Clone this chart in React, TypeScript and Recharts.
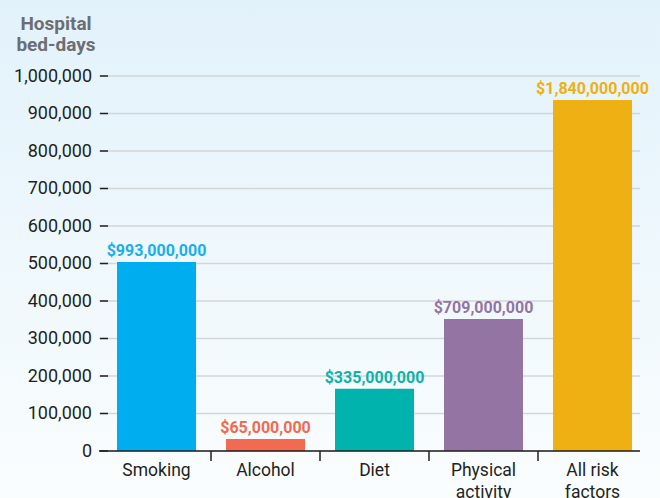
import { BarChart, Bar, XAxis, YAxis, CartesianGrid, Cell, LabelList } from 'recharts';

const categories = ['Smoking', 'Alcohol', 'Diet', 'Physical activity', 'All risk factors'];
const bedDays = [504000, 32000, 166000, 352000, 936000];
const costLabels = ['$993,000,000', '$65,000,000', '$335,000,000', '$709,000,000', '$1,840,000,000'];
const barColors = ['#00aeef', '#f26a50', '#00b4ad', '#9474a2', '#eeb013'];
const labelColors = ['#1aaeea', '#f2694f', '#0db3a8', '#9474a2', '#eeb013'];
const yTicks = [0, 100000, 200000, 300000, 400000, 500000, 600000, 700000, 800000, 900000, 1000000];

const data = categories.map((name, i) => ({ name, beds: bedDays[i], cost: costLabels[i] }));

const FONT = 'Roboto, "Noto Sans", sans-serif';
const TEXT = '#231f20';
const PAD_L = 3;
const PAD_R = -7;
const PLOT_W = 541;
const BAND = (PLOT_W - PAD_L - PAD_R) / categories.length;

const YTick = ({ x, y, payload }: any) => (
    <g>
        <text x={x - 7} y={y + 5.5} textAnchor="end" fontSize={18} fontFamily={FONT} fill={TEXT}>
            {Number(payload.value).toLocaleString('en-US')}
        </text>
        <line x1={x + 1} x2={x + 9} y1={y} y2={y} stroke={TEXT} strokeWidth={1.5} />
    </g>
);

const XTick = ({ x, y, payload, index }: any) => {
    const words = String(payload.value).split(' ');
    const lines = words.length > 1 ? [words.slice(0, -1).join(' '), words[words.length - 1]] : words;
    return (
        <g>
            {index < categories.length - 1 && (
                <line x1={x + BAND / 2} x2={x + BAND / 2} y1={y} y2={y + 10} stroke={TEXT} strokeWidth={1.5} />
            )}
            {lines.map((l, i) => (
                <text key={i} x={x} y={y + 25 + i * 22} textAnchor="middle" fontSize={17.5} fontFamily={FONT} fill={TEXT}>
                    {l}
                </text>
            ))}
        </g>
    );
};

const CostLabel = ({ x, y, width, index, value }: any) => (
    <text x={x + width / 2} y={y - 6} textAnchor="middle" fontSize={16} fontWeight="bold" fontFamily={FONT} fill={labelColors[index]}>
        {value}
    </text>
);

export default function App() {
    return (
        <div style={{ position: 'relative', width: 660, height: 498, overflow: 'hidden', background: 'linear-gradient(to bottom, #e2f2fb, #fafdfe)' }}>
            <style>{'body{margin:0}'}</style>
            <div style={{ position: 'absolute', left: 0, top: 13, width: 112, textAlign: 'center', fontFamily: FONT, fontWeight: 'bold', fontSize: 19, lineHeight: '21px', color: '#6d6e71' }}>
                Hospital<br />bed-days
            </div>
            <BarChart width={660} height={498} data={data} margin={{ top: 76, right: 20, bottom: 0, left: 0 }} barCategoryGap={15}>
                <CartesianGrid vertical={false} stroke="#d3d6d9" strokeWidth={1.5} />
                <XAxis dataKey="name" interval={0} padding={{ left: PAD_L, right: PAD_R }} axisLine={{ stroke: TEXT, strokeWidth: 1.5 }} tickLine={false} tickSize={0} tickMargin={0} tick={<XTick />} height={47} />
                <YAxis width={99} domain={[0, 1000000]} ticks={yTicks} interval={0} axisLine={false} tickLine={false} tickSize={0} tickMargin={0} tick={<YTick />} />
                <Bar dataKey="beds" isAnimationActive={false}>
                    {data.map((d, i) => <Cell key={d.name} fill={barColors[i]} />)}
                    <LabelList dataKey="cost" content={<CostLabel />} />
                </Bar>
            </BarChart>
        </div>
    );
}
